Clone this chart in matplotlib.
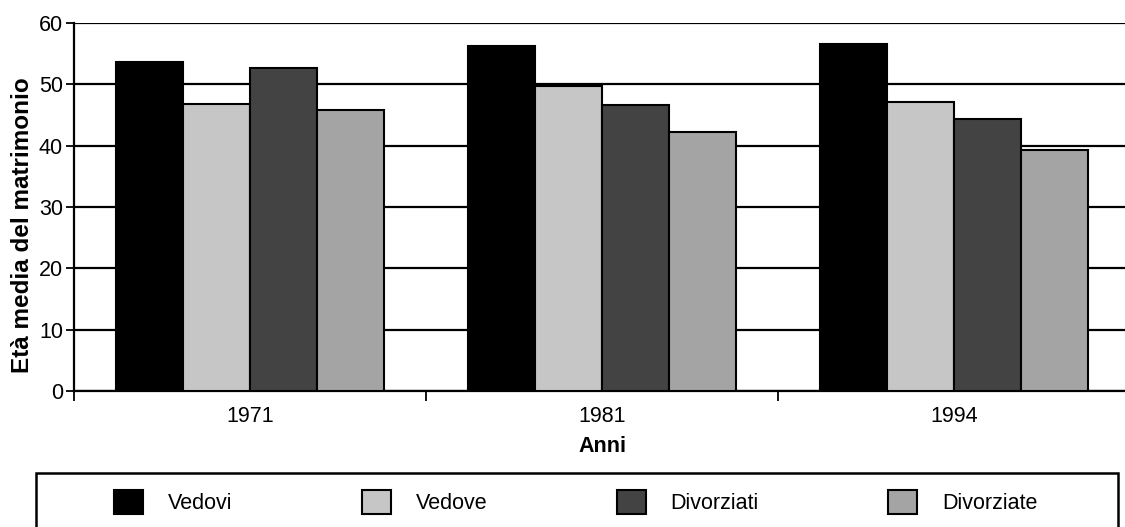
import matplotlib.pyplot as plt
from matplotlib.patches import Rectangle
import numpy as np

anni = ['1971', '1981', '1994']
vedovi = [53.7, 56.3, 56.6]
vedove = [46.8, 49.8, 47.1]
divorziati = [52.7, 46.7, 44.4]
divorziate = [45.8, 42.3, 39.3]

serie = [('Vedovi', vedovi, '#000000'),
         ('Vedove', vedove, '#c6c6c6'),
         ('Divorziati', divorziati, '#434343'),
         ('Divorziate', divorziate, '#a4a4a4')]

plt.rcParams['font.family'] = ['Liberation Sans', 'DejaVu Sans']

fig = plt.figure(figsize=(11.25, 5.27), dpi=100)
ax = fig.add_axes([74 / 1125, 1 - 391 / 527, 1056 / 1125, 368 / 527])

x = np.arange(len(anni))
w = 0.19
for i, (nome, valori, colore) in enumerate(serie):
    ax.bar(x + (i - 1.5) * w, valori, w, color=colore, edgecolor='black',
           linewidth=1.5, label=nome, zorder=3)

ax.set_xlim(-0.5, 2.5)
ax.set_ylim(0, 60)
ax.set_yticks(range(0, 61, 10))
ax.yaxis.grid(True, color='black', linewidth=1.6, zorder=0)
ax.set_axisbelow(True)

ax.set_xticks(x)
ax.set_xticklabels(anni)
ax.set_xticks([-0.5, 0.5, 1.5, 2.5], minor=True)
ax.tick_params(axis='x', which='major', length=0, pad=11, labelsize=15.5)
ax.tick_params(axis='x', which='minor', length=7, width=1.3, direction='out')
ax.tick_params(axis='y', length=6, width=1.3, labelsize=15.5, pad=2)

for s in ['top', 'right']:
    ax.spines[s].set_visible(False)
ax.spines['left'].set_linewidth(1.6)
ax.spines['bottom'].set_linewidth(1.6)

ax.set_xlabel('Anni', fontsize=15.5, fontweight='bold', labelpad=6)
ax.set_ylabel('Età media del matrimonio', fontsize=17.5, fontweight='bold')
ax.yaxis.set_label_coords(-40 / 1056, (391 - 225) / 368)

# riquadro della legenda (tagliato in basso come nell'originale)
fig.patches.append(Rectangle((36 / 1125, -0.1), 1082 / 1125, 0.1 + 1 - 473 / 527,
                             transform=fig.transFigure, fill=False,
                             edgecolor='black', linewidth=1.8))

fig.legend(loc='center left', ncol=4,
           bbox_to_anchor=(114 / 1125, 1 - 502 / 527),
           fontsize=15.5, frameon=False,
           handlelength=1.35, handleheight=1.35, handletextpad=1.16,
           columnspacing=6.0, borderpad=0, borderaxespad=0)

fig.savefig('out.png', dpi=100)
